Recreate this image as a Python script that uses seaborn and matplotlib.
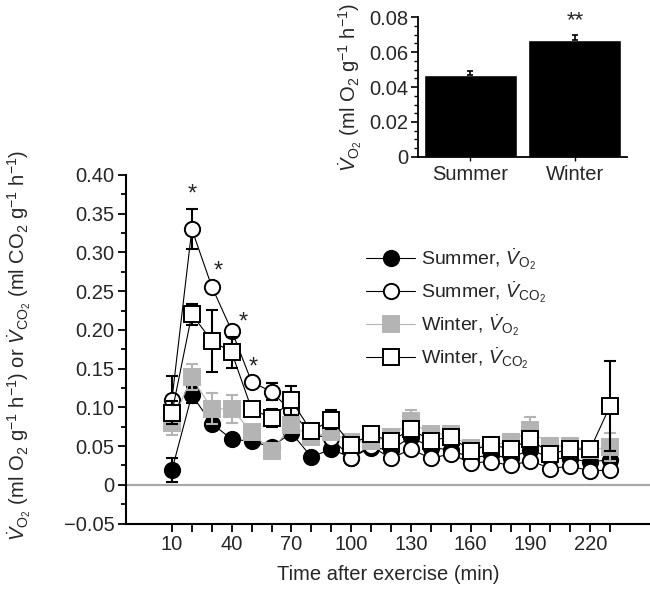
import matplotlib
matplotlib.use('Agg')
import matplotlib.pyplot as plt
from matplotlib.ticker import MultipleLocator, FixedLocator
import pandas as pd
import seaborn as sns

# time after exercise (min)
time = [10, 20, 30, 40, 50, 60, 70, 80, 90, 100, 110, 120, 130, 140, 150,
        160, 170, 180, 190, 200, 210, 220, 230]

summer_vo2 = [0.019, 0.116, 0.079, 0.059, 0.056, 0.049, 0.067, 0.036, 0.046, 0.035, 0.048, 0.045,
              0.062, 0.048, 0.045, 0.035, 0.038, 0.035, 0.045, 0.035, 0.033, 0.030, 0.032]
summer_vo2_se = [0.015, 0.010, 0.006, 0.005, 0.005, 0.005, 0.006, 0.005, 0.005, 0.004, 0.004, 0.005,
                 0.006, 0.005, 0.004, 0.004, 0.004, 0.004, 0.005, 0.004, 0.004, 0.004, 0.005]

summer_vco2 = [0.110, 0.330, 0.256, 0.199, 0.133, 0.120, 0.095, 0.065, 0.060, 0.035, 0.050, 0.034,
               0.046, 0.034, 0.040, 0.028, 0.030, 0.025, 0.031, 0.021, 0.024, 0.018, 0.019]
summer_vco2_se = [0.030, 0.026, 0.004, 0.004, 0.004, 0.011, 0.005, 0.005, 0.005, 0.004, 0.004, 0.004,
                  0.004, 0.004, 0.004, 0.003, 0.003, 0.003, 0.004, 0.003, 0.003, 0.003, 0.003]

winter_vo2 = [0.080, 0.139, 0.098, 0.098, 0.068, 0.043, 0.077, 0.062, 0.068, 0.055, 0.056, 0.062,
              0.082, 0.065, 0.066, 0.048, 0.052, 0.055, 0.071, 0.050, 0.050, 0.045, 0.049]
winter_vo2_se = [0.016, 0.017, 0.020, 0.018, 0.008, 0.006, 0.008, 0.007, 0.007, 0.006, 0.007, 0.009,
                 0.015, 0.010, 0.008, 0.008, 0.010, 0.010, 0.017, 0.010, 0.010, 0.010, 0.018]

winter_vco2 = [0.093, 0.220, 0.186, 0.171, 0.098, 0.086, 0.109, 0.069, 0.084, 0.052, 0.065, 0.056,
               0.072, 0.057, 0.062, 0.044, 0.052, 0.046, 0.059, 0.040, 0.046, 0.046, 0.102]
winter_vco2_se = [0.015, 0.014, 0.040, 0.020, 0.006, 0.012, 0.019, 0.006, 0.012, 0.005, 0.006, 0.008,
                  0.010, 0.008, 0.009, 0.006, 0.008, 0.008, 0.010, 0.005, 0.006, 0.008, 0.058]

# significant points (index into time) for summer VCO2
sig_points = [1, 2, 3, 4]

# inset: mean VO2 per season
seasons = ['Summer', 'Winter']
season_vo2 = [0.047, 0.067]
season_vo2_se = [0.002, 0.003]

y_ticks = [-0.05, 0, 0.05, 0.10, 0.15, 0.20, 0.25, 0.30, 0.35, 0.40]
y_labels = ['\u22120.05', '0', '0.05', '0.10', '0.15', '0.20', '0.25', '0.30', '0.35', '0.40']

sns.set_theme(style='ticks')
plt.rcParams['font.family'] = ['Liberation Sans', 'DejaVu Sans']
plt.rcParams['mathtext.fontset'] = 'custom'
plt.rcParams['mathtext.rm'] = 'Liberation Sans'
plt.rcParams['mathtext.it'] = 'Liberation Sans:italic'
plt.rcParams['mathtext.bf'] = 'Liberation Sans:bold'
FS = 14.5

GRAY = '#b4b4b4'
VO2 = r'$\dot{V}_{\mathrm{O_2}}$'
VCO2 = r'$\dot{V}_{\mathrm{CO_2}}$'

fig = plt.figure(figsize=(6.5, 5.9), dpi=100)
ax = fig.add_axes([0.194, 0.1127, 0.806, 0.5907])

ax.axhline(0, color='#a8a8a8', lw=1.6, zorder=0)

series = [
    ('Summer, ' + VO2, summer_vo2, summer_vo2_se, 'o', 'black', 'black', 'black'),
    ('Summer, ' + VCO2, summer_vco2, summer_vco2_se, 'o', 'white', 'black', 'black'),
    ('Winter, ' + VO2, winter_vo2, winter_vo2_se, 's', GRAY, GRAY, GRAY),
    ('Winter, ' + VCO2, winter_vco2, winter_vco2_se, 's', 'white', 'black', 'black'),
]

for i, (label, vals, se, mk, fc, ec, lc) in enumerate(series):
    z = 2 + i
    ax.errorbar(time, vals, yerr=se, fmt='none', ecolor=lc, elinewidth=1.5,
                capsize=4, capthick=1.5, zorder=z)
    df = pd.DataFrame({'time': time, 'val': vals})
    sns.lineplot(data=df, x='time', y='val', ax=ax, color=lc, lw=0.8,
                 marker=mk, markersize=11, markerfacecolor=fc,
                 markeredgecolor=ec, markeredgewidth=1.4, label=label, zorder=z)

# asterisks over summer VCO2
star_dx = [0, 3, 6, 0.6]
star_dy = [0.045, 0.019, 0.010, 0.018]
for k, idx in enumerate(sig_points):
    ax.text(time[idx] + star_dx[k], summer_vco2[idx] + star_dy[k], '*',
            ha='center', va='center', fontsize=17)

ax.set_xlim(-13, 250)
ax.set_ylim(-0.05, 0.40)
ax.xaxis.set_major_locator(FixedLocator(time))
ax.set_xticklabels([str(t) if (t - 10) % 30 == 0 else '' for t in time])
ax.set_yticks(y_ticks)
ax.set_yticklabels(y_labels)
ax.yaxis.set_minor_locator(MultipleLocator(0.025))
ax.tick_params(axis='both', which='major', length=5.5, width=1.3, labelsize=FS, color='black', pad=3)
ax.tick_params(axis='y', which='minor', length=3.5, width=1.3, color='black')
for s in ['left', 'bottom']:
    ax.spines[s].set_linewidth(1.5)
    ax.spines[s].set_color('black')
sns.despine(ax=ax)

ax.set_xlabel('Time after exercise (min)', fontsize=FS, labelpad=8)
ax.set_ylabel(VO2 + r' (ml O$_2$ g$^{-1}$ h$^{-1}$) or ' + VCO2 +
              r' (ml CO$_2$ g$^{-1}$ h$^{-1}$)', fontsize=FS)
ax.yaxis.set_label_coords(-0.178, 0.51)

ax.legend(loc='upper left', bbox_to_anchor=(0.44, 0.823), frameon=False,
          borderpad=0, handlelength=2.5, handletextpad=0.3, labelspacing=0.37,
          fontsize=14)

# inset bar chart
ins = fig.add_axes([0.643, 0.734, 0.322, 0.237])
sns.barplot(x=seasons, y=season_vo2, ax=ins, color='black', width=0.89,
            saturation=1, errorbar=None)
ins.errorbar([0, 1], season_vo2, yerr=[[0, 0], season_vo2_se], fmt='none',
             ecolor='black', elinewidth=1.2, capsize=2.5, capthick=1.2)
ins.text(1, season_vo2[1] + season_vo2_se[1] + 0.002, '**', ha='center', va='bottom', fontsize=16)
ins.set_xlim(-0.5, 1.5)
ins.set_ylim(0, 0.08)
ins.set_yticks([0, 0.02, 0.04, 0.06, 0.08])
ins.set_yticklabels(['0', '0.02', '0.04', '0.06', '0.08'])
ins.yaxis.set_minor_locator(MultipleLocator(0.005))
ins.tick_params(axis='y', which='major', length=5, width=1.2, labelsize=FS, color='black', pad=2)
ins.tick_params(axis='y', which='minor', length=3, width=1.0, color='black')
ins.tick_params(axis='x', length=3, width=1.0, labelsize=FS, color='black', pad=3)
for s in ['left', 'bottom']:
    ins.spines[s].set_linewidth(1.3)
    ins.spines[s].set_color('black')
sns.despine(ax=ins)
ins.set_ylabel(VO2 + r' (ml O$_2$ g$^{-1}$ h$^{-1}$)', fontsize=FS, labelpad=4)

fig.savefig('out.png', dpi=100)
